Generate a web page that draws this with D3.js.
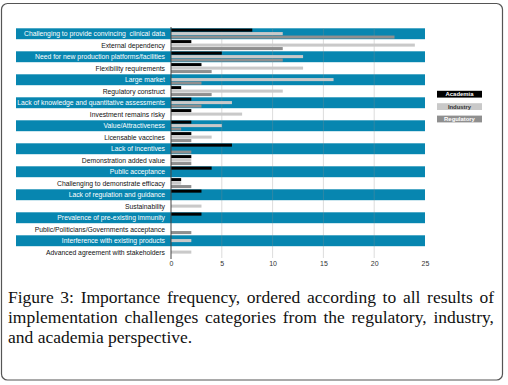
<!DOCTYPE html>
<html>
<head>
<meta charset="utf-8">
<script src="https://cdn.jsdelivr.net/npm/d3@7"></script>
<style>
  html, body { margin: 0; padding: 0; background: #fff; }
  svg { display: block; }
  .lbl { font-family: "Liberation Sans", Arial, sans-serif; font-size: 6.8px; white-space: pre; }
  .tick text { font-family: "Liberation Sans", Arial, sans-serif; font-size: 7px; fill: #333; }
  .caption { font-family: "Liberation Serif", "Times New Roman", Times, serif; font-size: 17.5px; fill: #111; }
</style>
</head>
<body>
<script>
// categories, top to bottom
var categories = [
  "Challenging to provide convincing  clinical data",
  "External dependency",
  "Need for new production platforms/facilities",
  "Flexibility requirements",
  "Large market",
  "Regulatory construct",
  "Lack of knowledge and quantitative assessments",
  "Investment remains risky",
  "Value/Attractiveness",
  "Licensable vaccines",
  "Lack of incentives",
  "Demonstration added value",
  "Public acceptance",
  "Challenging to demonstrate efficacy",
  "Lack of regulation and guidance",
  "Sustainability",
  "Prevalence of pre-existing immunity",
  "Public/Politicians/Governments acceptance",
  "Interference with existing products",
  "Advanced agreement with stakeholders"
];
var academia   = [8, 2, 5, 3, 0, 1, 2, 2, 2, 2, 6, 2, 4, 1, 3, 0, 3, 0, 0, 0];
var industry   = [11, 24, 13, 13, 16, 11, 6, 7, 5, 4, 0, 2, 0, 1, 0, 3, 0, 0, 2, 2];
var regulatory = [22, 11, 11, 4, 3, 4, 3, 0, 1, 2, 2, 2, 0, 2, 0, 0, 0, 2, 0, 0];
var seriesNames = ["Academia", "Industry", "Regulatory"];
var xTicks = [0, 5, 10, 15, 20, 25];

var captionLines = [
  "Figure 3: Importance frequency, ordered according to all results of",
  "implementation challenges categories from the regulatory, industry,",
  "and academia perspective."
];

var W = 508, H = 385;
var teal = "#0786b0";
var colors = { Academia: "#000000", Industry: "#c9c9c9", Regulatory: "#8f8f8f" };

var svg = d3.select("body").append("svg")
    .attr("width", W)
    .attr("height", H);

// outer frame
svg.append("rect")
    .attr("x", 1.5).attr("y", 3.5)
    .attr("width", 501).attr("height", 376.5)
    .attr("rx", 6)
    .attr("fill", "#fff")
    .attr("stroke", "#555")
    .attr("stroke-width", 1.2);

var x = d3.scaleLinear().domain([0, 25]).range([171, 425]);
var y = d3.scaleBand().domain(categories).range([28, 258]);

var rows = categories.map(function(c, i) {
  return { cat: c, i: i, values: [academia[i], industry[i], regulatory[i]] };
});

// stripes
svg.selectAll("rect.stripe")
    .data(rows.filter(function(d) { return d.i % 2 == 0; }))
  .enter().append("rect")
    .attr("class", "stripe")
    .attr("x", 16)
    .attr("y", function(d) { return y(d.cat) + 0.3; })
    .attr("width", 425 - 16)
    .attr("height", y.bandwidth() - 0.6)
    .attr("fill", teal);

// grid lines
svg.selectAll("line.grid")
    .data(xTicks.slice(1, 5))
  .enter().append("line")
    .attr("class", "grid")
    .attr("x1", function(d) { return x(d); })
    .attr("x2", function(d) { return x(d); })
    .attr("y1", 28).attr("y2", 258)
    .attr("stroke", "#8a8a8a")
    .attr("stroke-opacity", 0.3)
    .attr("stroke-width", 1);

// bars
var inner = d3.scaleBand().domain(seriesNames).range([0.6, y.bandwidth() - 0.9]).paddingInner(0.12);
var rowG = svg.selectAll("g.row")
    .data(rows)
  .enter().append("g")
    .attr("class", "row")
    .attr("transform", function(d) { return "translate(0," + y(d.cat) + ")"; });

rowG.selectAll("rect.bar")
    .data(function(d) { return d.values.map(function(v, k) { return { name: seriesNames[k], value: v }; }); })
  .enter().append("rect")
    .attr("class", "bar")
    .attr("x", x(0))
    .attr("y", function(d) { return inner(d.name); })
    .attr("width", function(d) { return x(d.value) - x(0); })
    .attr("height", inner.bandwidth())
    .attr("fill", function(d) { return colors[d.name]; });

// category labels
rowG.append("text")
    .attr("class", "lbl")
    .attr("x", 165)
    .attr("y", y.bandwidth() / 2)
    .attr("dy", "0.35em")
    .attr("text-anchor", "end")
    .attr("fill", function(d) { return d.i % 2 == 0 ? "#fff" : "#111"; })
    .text(function(d) { return d.cat; });

// y axis line
svg.append("line")
    .attr("x1", x(0)).attr("x2", x(0))
    .attr("y1", 27).attr("y2", 259)
    .attr("stroke", "#444")
    .attr("stroke-width", 1);

// x axis
var xAxis = d3.axisBottom(x).tickValues(xTicks).tickSize(0).tickPadding(3);
var xG = svg.append("g")
    .attr("transform", "translate(0,258)")
    .call(xAxis);
xG.select(".domain").remove();

// legend
var legend = svg.selectAll("g.legend")
    .data(seriesNames)
  .enter().append("g")
    .attr("class", "legend")
    .attr("transform", function(d, i) { return "translate(437," + (90.8 + i * 12.4) + ")"; });
legend.append("rect")
    .attr("width", 45).attr("height", 6.8)
    .attr("fill", function(d) { return colors[d]; });
legend.append("text")
    .attr("class", "lbl")
    .attr("x", 22.5).attr("y", 3.5)
    .attr("dy", "0.35em")
    .attr("text-anchor", "middle")
    .style("font-size", "5.9px")
    .style("font-weight", "bold")
    .attr("fill", function(d) { return d == "Industry" ? "#333" : "#fff"; })
    .text(function(d) { return d; });

// caption, justified
var capG = svg.append("g");
captionLines.forEach(function(line, i) {
  var t = capG.append("text")
      .attr("class", "caption")
      .attr("x", 8)
      .attr("y", 303 + i * 20)
      .text(line);
  if (i < captionLines.length - 1) {
    var len = t.node().getComputedTextLength();
    var gaps = line.split(" ").length - 1;
    t.attr("word-spacing", ((494 - 8 - len) / gaps) + "px");
  }
});
</script>
</body>
</html>
